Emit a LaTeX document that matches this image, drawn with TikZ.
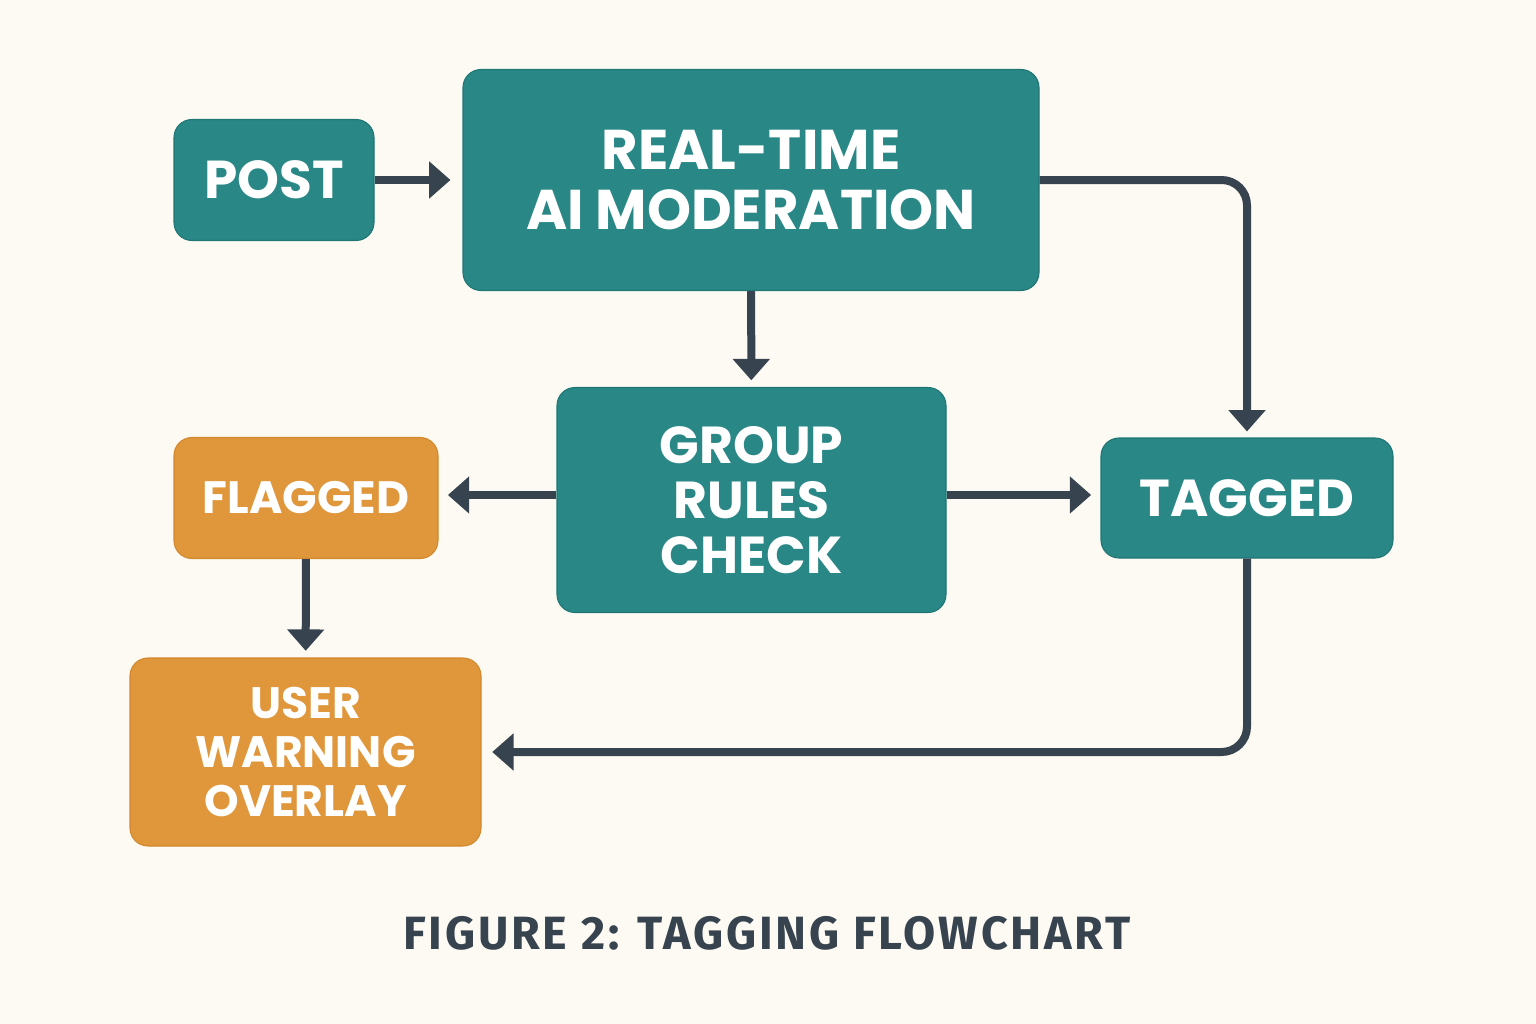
\documentclass[tikz,border=0pt]{standalone}
\usepackage{fontspec}
\setmainfont{Poppins}
\newfontfamily\capfont[LetterSpace=6]{Fira Sans}
\usetikzlibrary{arrows.meta}
\definecolor{pagebg}{RGB}{253,250,243}
\definecolor{tealbox}{RGB}{41,135,134}
\definecolor{tealedge}{RGB}{30,118,117}
\definecolor{orangebox}{RGB}{224,150,58}
\definecolor{orangeedge}{RGB}{210,136,44}
\definecolor{arrowgray}{RGB}{55,68,79}
\tikzset{
  stagebox/.style={draw=tealedge, line width=0.8pt, fill=tealbox, rounded corners=13.5pt, inner sep=0pt, align=center, text=white, font=\bfseries},
  alertbox/.style={stagebox, draw=orangeedge, fill=orangebox},
  flow/.style={draw=arrowgray, line width=6pt, -{Triangle[length=16pt,width=27pt]}, rounded corners=19pt}
}
\begin{document}
\begin{tikzpicture}[x=0.75pt,y=0.75pt,yscale=-1,xscale=1]
            % background
            \fill [pagebg] (0,0) rectangle (1536,1024);
            \useasboundingbox (0,0) rectangle (1536,1024);

            % Boxes
            \node [stagebox, minimum width=150pt, minimum height=90.75pt, font=\bfseries\fontsize{40}{44}\selectfont] (post) at (274,180) {POST};
            \node [stagebox, minimum width=432pt, minimum height=165.75pt, font=\bfseries\fontsize{42}{45}\selectfont] (moderation) at (751,180) {REAL-TIME\\AI MODERATION};
            \node [stagebox, minimum width=291.75pt, minimum height=168.75pt, font=\bfseries\fontsize{39}{41.5}\selectfont] (rules) at (751.5,500) {GROUP\\RULES\\CHECK};
            \node [alertbox, minimum width=198pt, minimum height=90.75pt, font=\bfseries\fontsize{34}{38}\selectfont] (flagged) at (306,498) {FLAGGED};
            \node [stagebox, minimum width=219pt, minimum height=90pt, font=\bfseries\fontsize{39}{42}\selectfont] (tagged) at (1247,498) {TAGGED};
            \node [alertbox, minimum width=263.25pt, minimum height=141pt, font=\bfseries\fontsize{33}{37}\selectfont] (warning) at (305.5,752) {USER\\WARNING\\OVERLAY};

            % Caption
            \node [text=arrowgray, font=\capfont\bfseries\fontsize{35}{40}\selectfont] (caption) at (767,933) {FIGURE 2: TAGGING FLOWCHART};

            % Connectors
            \draw [flow, shorten >=9pt] (post) -- (moderation);
            \draw [flow, shorten >=5pt] (moderation) -- (rules);
            \draw [flow, shorten >=4.5pt] (moderation.east) -| (tagged.north);
            \draw [flow, shorten >=7pt] (rules.west |- 0,495) -- (flagged.east |- 0,495);
            \draw [flow, shorten >=7pt] (rules.east |- 0,495) -- (tagged.west |- 0,495);
            \draw [flow, shorten >=5pt] (flagged) -- (warning);
            \draw [flow, shorten >=8pt] (tagged.south) |- (warning.east);
\end{tikzpicture}
\end{document}
